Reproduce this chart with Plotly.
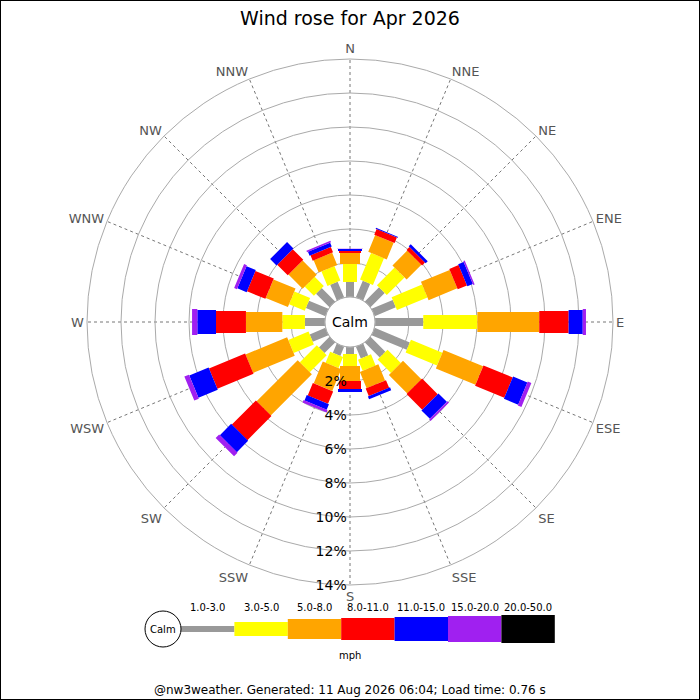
import math
import plotly.graph_objects as go

# ---- data (percent of time, per direction, per speed band) ----
directions = ["N", "NNE", "NE", "ENE", "E", "ESE", "SE", "SSE",
              "S", "SSW", "SW", "WSW", "W", "WNW", "NW", "NNW"]
band_labels = ["1.0-3.0", "3.0-5.0", "5.0-8.0", "8.0-11.0",
               "11.0-15.0", "15.0-20.0", "20.0-50.0"]

mph_1_3 = [0.88, 1.06, 1.18, 1.35, 2.84, 2.24, 1.24, 0.76,
           0.41, 0.59, 0.88, 1.00, 1.18, 1.24, 1.12, 1.00]
mph_3_5 = [1.06, 1.70, 1.47, 1.94, 3.18, 2.00, 1.11, 0.71,
           0.71, 0.70, 1.41, 1.29, 1.33, 1.00, 0.76, 0.92]
mph_5_8 = [0.65, 1.06, 1.23, 1.83, 3.64, 2.52, 1.53, 1.03,
           0.88, 1.39, 3.42, 2.65, 2.14, 1.41, 1.18, 0.78]
mph_8_11 = [0.11, 0.36, 0.24, 0.59, 1.73, 1.86, 1.30, 0.48,
            0.47, 0.79, 2.00, 2.30, 1.76, 1.17, 0.88, 0.34]
mph_11_15 = [0.12, 0.05, 0.17, 0.35, 0.83, 0.91, 0.70, 0.18,
             0.18, 0.35, 0.94, 1.23, 1.10, 0.59, 0.53, 0.25]
mph_15_20 = [0.02, 0.00, 0.00, 0.09, 0.19, 0.23, 0.12, 0.00,
             0.00, 0.15, 0.29, 0.29, 0.31, 0.18, 0.00, 0.10]
mph_20_50 = [0.00] * 16

speed_bands = [mph_1_3, mph_3_5, mph_5_8, mph_8_11, mph_11_15, mph_15_20, mph_20_50]
colours = ["#999999", "#ffff00", "#ffa500", "#ff0000", "#0000ff", "#a020f0", "#000000"]

radial_ticks = [2, 4, 6, 8, 10, 12, 14]

title = "Wind rose for Apr 2026"
footer = "@nw3weather. Generated: 11 Aug 2026 06:04; Load time: 0.76 s"

# ---- canvas geometry (pixels) ----
W = H = 700
cx, cy = 350, 322
R_OUT = 263          # radius of 14% ring
HOLE = 25            # radius of the calm circle
R_MAX = 14
K = (R_OUT - HOLE) / R_MAX   # px per percent
half_w = [4, 7, 10, 11, 12, 13, 14]   # half bar thickness per band (px)


def px(x, y):
    return x / W, 1 - y / H


def bar_polygon(theta, r0, r1, hw):
    # rectangle of constant pixel thickness, expressed in polar data coords
    rs, ts = [], []
    for r, s in ((r0, -1), (r1, -1), (r1, 1), (r0, 1), (r0, -1)):
        P = HOLE + K * r
        rs.append((math.hypot(P, hw) - HOLE) / K)
        ts.append(theta + s * math.degrees(math.atan2(hw, P)))
    return rs, ts


def label(text, x, y, size):
    return dict(text=text, x=px(x, y)[0], y=px(x, y)[1], showarrow=False,
                xanchor="center", yanchor="middle",
                font=dict(size=size, color="black"))


thetas = [i * 22.5 for i in range(16)]

fig = go.Figure()

cum = [0.0] * 16
for b, vals in enumerate(speed_bands):
    rr, tt = [], []
    for i, v in enumerate(vals):
        if v > 0:
            r_, t_ = bar_polygon(thetas[i], cum[i], cum[i] + v, half_w[b])
            rr += r_ + [None]
            tt += t_ + [None]
        cum[i] += v
    if rr:
        fig.add_trace(go.Scatterpolar(
            r=rr, theta=tt, mode="lines", fill="toself",
            fillcolor=colours[b], line=dict(width=0, color=colours[b]),
            name=band_labels[b], hoverinfo="skip", showlegend=False))

# outline of the calm circle
fig.add_trace(go.Scatterpolar(
    r=[0] * 73, theta=[i * 5 for i in range(73)], mode="lines",
    line=dict(color="#bbbbbb", width=1), hoverinfo="skip", showlegend=False))

x0d, y0d = px(cx - R_OUT, cy + R_OUT)
x1d, y1d = px(cx + R_OUT, cy - R_OUT)

fig.update_layout(
    width=W, height=H, autosize=False,
    margin=dict(l=0, r=0, t=0, b=0),
    paper_bgcolor="white",
    font=dict(family="DejaVu Sans", color="black"),
    title=dict(text=title, x=0.5, xanchor="center", y=1 - 18 / H, yanchor="middle",
               font=dict(size=19, color="black")),
    polar=dict(
        domain=dict(x=[x0d, x1d], y=[y0d, y1d]),
        hole=HOLE / R_OUT,
        bgcolor="white",
        angularaxis=dict(
            rotation=90, direction="clockwise",
            tickmode="array", tickvals=thetas, ticktext=directions,
            tickfont=dict(size=13, color="#555555"),
            ticks="", showline=True, linecolor="#aaaaaa", linewidth=1,
            showgrid=True, gridcolor="#777777", griddash="dot", gridwidth=1,
        ),
        radialaxis=dict(
            range=[0, R_MAX], tickmode="array", tickvals=radial_ticks,
            ticktext=[f"{t}%" for t in radial_ticks],
            tickfont=dict(size=14, color="black"),
            angle=-90, tickangle=-90, ticks="", showline=False,
            showgrid=True, gridcolor="#aaaaaa", gridwidth=1,
            layer="above traces",
        ),
    ),
)

annotations = [
    label("Calm", cx, cy, 14),
    label(footer, 350, 690, 12),
    label("mph", 350, 655, 10),
]

shapes = [
    # frame round the image
    dict(type="rect", xref="paper", yref="paper", x0=0, y0=0, x1=1, y1=1,
         line=dict(color="black", width=2)),
]

# legend: calm circle followed by one key per speed band
leg_y = 629
key_x0, key_w = 181, 53.4
cxa, cya = px(145, leg_y + 18)
cxb, cyb = px(181, leg_y - 18)
shapes.append(dict(type="circle", xref="paper", yref="paper",
                   x0=cxa, y0=cya, x1=cxb, y1=cyb,
                   line=dict(color="black", width=1), fillcolor="white"))
annotations.append(label("Calm", 163, leg_y, 10))
for b, lab in enumerate(band_labels):
    xa = key_x0 + b * key_w
    hh = half_w[b] if b else 3
    p0 = px(xa, leg_y + hh)
    p1 = px(xa + key_w, leg_y - hh)
    shapes.append(dict(type="rect", xref="paper", yref="paper",
                       x0=p0[0], y0=p0[1], x1=p1[0], y1=p1[1],
                       line=dict(width=0), fillcolor=colours[b], layer="below"))
    annotations.append(label(lab, xa + key_w / 2, 607, 10))

fig.update_layout(shapes=shapes, annotations=annotations)

fig.write_html("out.html", config={"displayModeBar": False},
               post_script="document.body.style.margin='0';")
